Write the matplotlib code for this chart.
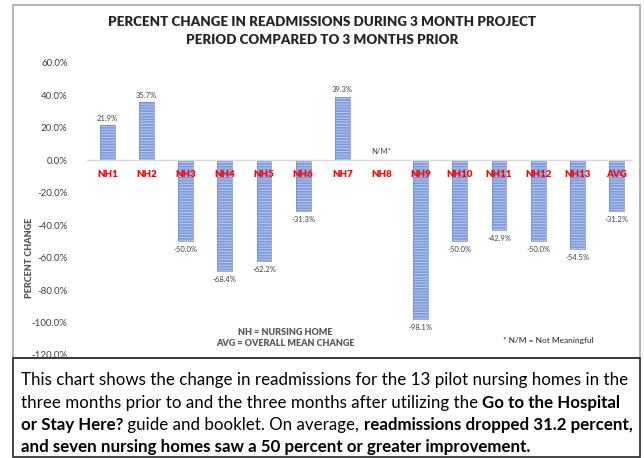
import matplotlib
matplotlib.use("Agg")
import matplotlib.pyplot as plt
from matplotlib.patches import Rectangle
import numpy as np

plt.rcParams['font.family'] = ['Lato', 'DejaVu Sans']
plt.rcParams['hatch.linewidth'] = 0.7

categories = ["NH1", "NH2", "NH3", "NH4", "NH5", "NH6", "NH7", "NH8", "NH9",
              "NH10", "NH11", "NH12", "NH13", "AVG"]
values = [21.9, 35.7, -50.0, -68.4, -62.2, -31.3, 39.3, np.nan, -98.1,
          -50.0, -42.9, -50.0, -54.5, -31.2]
yticks = [60, 40, 20, 0, -20, -40, -60, -80, -100, -120]
title = "PERCENT CHANGE IN READMISSIONS DURING 3 MONTH PROJECT\nPERIOD COMPARED TO 3 MONTHS PRIOR"
ylabel = "PERCENT CHANGE"
note_left = "NH = NURSING HOME\nAVG = OVERALL MEAN CHANGE"
note_right = "* N/M = Not Meaningful"
nm_label = "N/M*"
caption_lines = [
    [("This chart shows the change in readmissions for the 13 pilot nursing homes in the", False)],
    [("three months prior to and the three months after utilizing the ", False),
     ("Go to the Hospital", True)],
    [("or Stay Here?", True), (" guide and booklet. On average, ", False),
     ("readmissions dropped 31.2 percent,", True)],
    [("and seven nursing homes saw a 50 percent or greater improvement.", True)],
]

W, H = 644, 458
fig = plt.figure(figsize=(W / 100, H / 100), dpi=100)

# chart frame
fig.patches.append(Rectangle((13 / W, 1 - 358 / H), 627 / W, 353 / H, transform=fig.transFigure,
                             fill=False, edgecolor='#a6a6a6', linewidth=1.2))
# caption box
fig.patches.append(Rectangle((13 / W, 0.002), 627 / W, 1 - 358 / H - 0.002, transform=fig.transFigure,
                             fill=False, edgecolor='#262626', linewidth=1.2))

ax = fig.add_axes([87 / W, 1 - 355 / H, 546 / W, 292 / H])
x = np.arange(len(categories))
vals = np.array(values, dtype=float)
plot_vals = np.nan_to_num(vals)
ax.bar(x, plot_vals, width=0.38, color='#7d9ada', edgecolor='#b9caee', linewidth=0,
       hatch='------', zorder=2)
ax.bar(x, plot_vals, width=0.38, fill=False, edgecolor='#6a8bd2', linewidth=0.5, zorder=2.5)
ax.set_xlim(-0.52, 13.42)
ax.set_ylim(-120, 60)
ax.set_yticks(yticks)
ax.set_yticklabels([f"{t:.1f}%" for t in yticks], fontsize=7, color='#404040')
ax.tick_params(axis='y', length=0, pad=14)
ax.set_xticks([])
for s in ['top', 'right', 'left', 'bottom']:
    ax.spines[s].set_visible(False)
ax.axhline(0, color='#d9d9d9', linewidth=1.0, zorder=3)

for xi, v, c in zip(x, vals, categories):
    ax.text(xi, -9, c, ha='center', va='center', color='#ff0000', fontsize=7,
            fontweight='heavy', zorder=4)
    if np.isnan(v):
        ax.text(xi, 5.5, nm_label, ha='center', va='center', fontsize=5.5, color='#404040')
    elif v >= 0:
        ax.text(xi, v + 2, f"{v:.1f}%", ha='center', va='bottom', fontsize=5.5, color='#404040')
    else:
        ax.text(xi, v - 3, f"{v:.1f}%", ha='center', va='top', fontsize=5.5, color='#404040')

fig.text(30 / W, 1 - 258 / H, ylabel, rotation=90, ha='center', va='center',
         fontsize=6.5, fontweight='heavy', color='#595959')
fig.text(322 / W, 1 - 31 / H, title, ha='center', va='center', fontsize=9.6,
         fontweight='heavy', color='#262626', linespacing=1.55)
fig.text(285 / W, 1 - 338 / H, note_left, ha='center', va='center', fontsize=6.5,
         fontweight='heavy', color='#595959', linespacing=1.3)
fig.text(548 / W, 1 - 340 / H, note_right, ha='center', va='center', fontsize=6,
         color='#262626')

# caption with mixed bold text
renderer = fig.canvas.get_renderer()
fs = 12.5
t = fig.text(0, 0, caption_lines[0][0][0], fontsize=fs)
w = t.get_window_extent(renderer).width
t.remove()
fs = fs * 606 / w
ys = [380, 403, 425, 447]
for line, yp in zip(caption_lines, ys):
    xp = 21
    for seg, bold in line:
        tt = fig.text(xp / W, 1 - yp / H, seg, fontsize=fs, va='center', ha='left',
                      fontweight='bold' if bold else 'normal', color='#000000')
        bb = tt.get_window_extent(renderer)
        xp += bb.width

fig.savefig("out.png", dpi=100)
